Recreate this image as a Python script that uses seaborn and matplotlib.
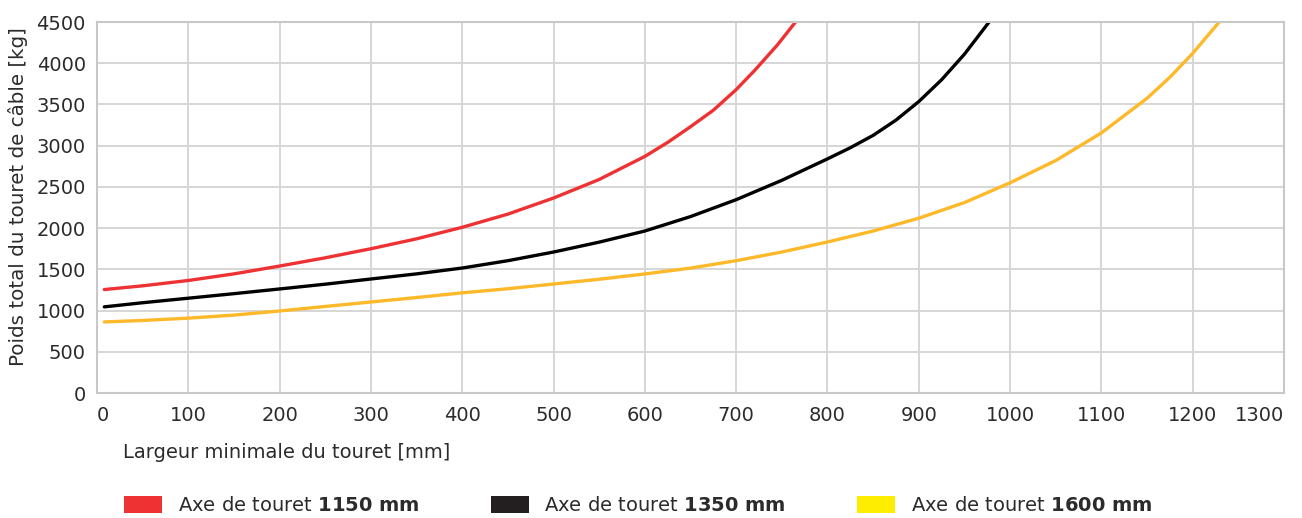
import numpy as np
import pandas as pd
import seaborn as sns
from matplotlib import pyplot as plt
from matplotlib.patches import Patch

# valeurs
x_1150 = [8, 50, 100, 150, 200, 250, 300, 350, 400, 450, 500, 550, 600, 625, 650, 675, 700, 720, 745, 765]
y_1150 = [1255, 1300, 1365, 1445, 1540, 1640, 1750, 1870, 2010, 2170, 2365, 2590, 2870, 3040, 3230, 3430, 3680, 3910, 4220, 4500]

x_1350 = [8, 50, 100, 150, 200, 250, 300, 350, 400, 450, 500, 550, 600, 650, 700, 750, 800, 825, 850, 875, 900, 925, 950, 977]
y_1350 = [1045, 1095, 1150, 1205, 1262, 1320, 1383, 1445, 1516, 1605, 1710, 1830, 1965, 2140, 2345, 2580, 2840, 2975, 3125, 3310, 3535, 3800, 4110, 4500]

x_1600 = [8, 50, 100, 150, 200, 250, 300, 350, 400, 450, 500, 550, 600, 650, 700, 750, 800, 850, 900, 950, 1000, 1050, 1100, 1150, 1175, 1200, 1229]
y_1600 = [862, 880, 908, 945, 995, 1050, 1104, 1158, 1215, 1265, 1322, 1380, 1444, 1515, 1605, 1710, 1832, 1965, 2120, 2310, 2550, 2820, 3155, 3575, 3830, 4120, 4500]

series = ["1150 mm", "1350 mm", "1600 mm"]
line_colors = ["#EE3233", "#000000", "#FDB92A"]
legend_colors = ["#EE3233", "#231F20", "#FFED00"]

df = pd.concat([
    pd.DataFrame({"x": x_1150, "y": y_1150, "axe": series[0]}),
    pd.DataFrame({"x": x_1350, "y": y_1350, "axe": series[1]}),
    pd.DataFrame({"x": x_1600, "y": y_1600, "axe": series[2]}),
])

sns.set_style("whitegrid")
plt.rcParams["font.family"] = ["DejaVu Sans"]
plt.rcParams["mathtext.fontset"] = "custom"
plt.rcParams["mathtext.rm"] = "DejaVu Sans"
plt.rcParams["mathtext.bf"] = "DejaVu Sans:bold"

txt = "#2b2b2b"
fs = 14

fig = plt.figure(figsize=(13.02, 5.18), dpi=100)
ax = fig.add_axes([0.0745, 0.2413, 0.9117, 0.7162])

sns.lineplot(data=df, x="x", y="y", hue="axe", palette=line_colors,
             linewidth=2.4, legend=False, ax=ax, sort=False)

ax.set_xlim(0, 1300)
ax.set_ylim(0, 4500)
ax.set_xticks(np.arange(0, 1301, 100))
ax.set_yticks(np.arange(0, 4501, 500))
ax.grid(True, color="#d6d6d6", linewidth=1.4)
for s in ax.spines.values():
    s.set_color("#c8c8c8")
    s.set_linewidth(1.5)
ax.tick_params(length=0, labelsize=fs, labelcolor=txt)
ax.tick_params(axis="y", pad=8)
ax.tick_params(axis="x", pad=9)
xt = ax.get_xticklabels()
xt[-1].set_horizontalalignment("right")
xt[0].set_horizontalalignment("left")

ax.set_xlabel("Largeur minimale du touret [mm]", fontsize=fs, color=txt, ha="left")
ax.xaxis.set_label_coords(0.022, -0.135)
ax.set_ylabel("Poids total du touret de câble [kg]", fontsize=14.3, color=txt)
ax.yaxis.set_label_coords(-0.058, 0.53)

handles = [Patch(facecolor=c, edgecolor="none") for c in legend_colors]
labels = ["Axe de touret $\\bf{" + s.replace(" ", "\\ ") + "}$" for s in series]
fig.legend(handles, labels, loc="lower left", bbox_to_anchor=(0.082, -0.028), ncol=3,
           frameon=False, fontsize=fs, handlelength=1.95, handleheight=0.95,
           handletextpad=0.8, columnspacing=3.7, labelcolor=txt)

fig.savefig("out.png", dpi=100)
